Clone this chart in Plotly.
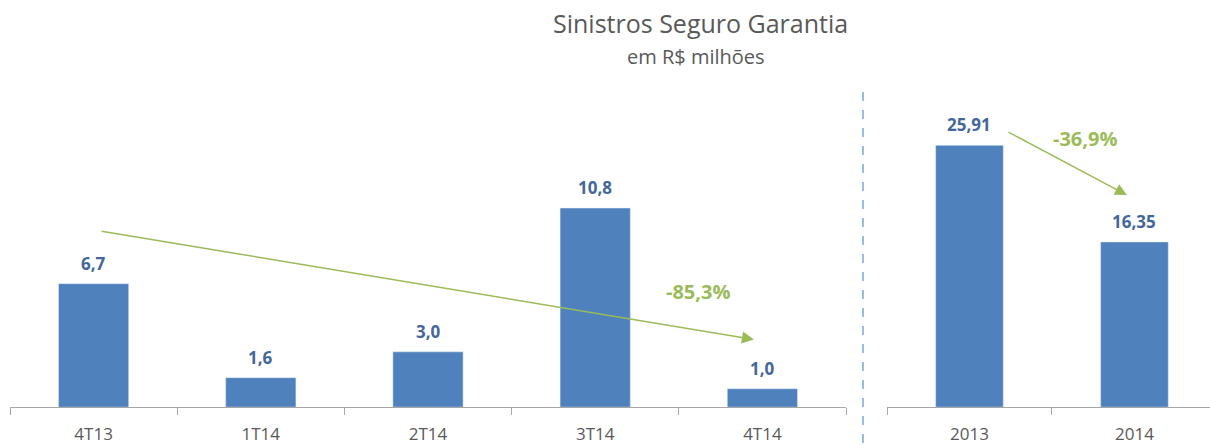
import plotly.graph_objects as go

# Data
quarters = ["4T13", "1T14", "2T14", "3T14", "4T14"]
quarter_values = [6.7, 1.6, 3.0, 10.8, 1.0]
years = ["2013", "2014"]
year_values = [25.91, 16.35]
quarter_change_label = "-85,3%"
year_change_label = "-36,9%"

BAR = "#4f81bd"
LBL = "#44679b"
GREEN = "#9bbb59"
AXIS = "#a6a6a6"
TXT = "#595959"
FONT = "Open Sans"

W, H = 1210, 445
base_px = 409
top_px = 81
def py(px):
    return (H - px) / H

fig = go.Figure()
fig.add_trace(go.Bar(x=quarters, y=quarter_values, marker_color=BAR, width=0.42,
                     xaxis="x", yaxis="y", hoverinfo="skip"))
fig.add_trace(go.Bar(x=years, y=year_values, marker_color=BAR, width=0.41,
                     xaxis="x2", yaxis="y2", hoverinfo="skip"))

left_max = 10.8 * (base_px - top_px) / 200
right_max = 25.91 * (base_px - top_px) / 263

xcommon = dict(type="category", showline=True, linecolor=AXIS, linewidth=1,
               ticks="outside", ticklen=7, tickcolor=AXIS, tickson="boundaries",
               showgrid=False, zeroline=False, ticklabelstandoff=11,
               tickfont=dict(family=FONT, size=17, color=TXT), fixedrange=True)
ycommon = dict(showgrid=False, zeroline=False, showticklabels=False,
               showline=False, fixedrange=True)

fig.update_layout(
    width=W, height=H,
    margin=dict(l=0, r=0, t=0, b=0),
    paper_bgcolor="white", plot_bgcolor="white",
    showlegend=False,
    separators=",.",
    bargap=0.5,
    xaxis=dict(domain=[10 / W, 846 / W], range=[-0.5, 4.5], **xcommon),
    xaxis2=dict(domain=[887 / W, 1.0], range=[-0.5, 1.458], anchor="y2", **xcommon),
    yaxis=dict(domain=[py(base_px), py(top_px)], range=[0, left_max], anchor="x", **ycommon),
    yaxis2=dict(domain=[py(base_px), py(top_px)], range=[0, right_max], anchor="x2", **ycommon),
)

ann = []
# title
ann.append(dict(text="Sinistros Seguro Garantia", x=700 / W, y=py(23), xref="paper", yref="paper",
                showarrow=False, xanchor="center", yanchor="middle",
                font=dict(family=FONT, size=25, color=TXT)))
ann.append(dict(text="em R$ milhões", x=696 / W, y=py(57), xref="paper", yref="paper",
                showarrow=False, xanchor="center", yanchor="middle",
                font=dict(family=FONT, size=20, color=TXT)))
# data labels
for i, v in enumerate(quarter_values):
    ann.append(dict(text=f"{v:.1f}".replace(".", ","), x=i, y=v, xref="x", yref="y",
                    showarrow=False, yanchor="bottom", yshift=7,
                    font=dict(family=FONT, size=17, color=LBL, weight="bold")))
for i, v in enumerate(year_values):
    ann.append(dict(text=f"{v:.2f}".replace(".", ","), x=i, y=v, xref="x2", yref="y2",
                    showarrow=False, yanchor="bottom", yshift=7,
                    font=dict(family=FONT, size=17, color=LBL, weight="bold")))

# arrows (pixel -> axis coordinates)
def lx(px):
    return (px - 10) / 167 - 0.5
def ly(px):
    return (base_px - px) / (base_px - top_px) * left_max
def rx(px):
    return (px - 887) / 165 - 0.5
def ry(px):
    return (base_px - px) / (base_px - top_px) * right_max

ann.append(dict(x=lx(753), y=ly(341), ax=lx(100), ay=ly(232), xref="x", yref="y",
                axref="x", ayref="y", showarrow=True, arrowhead=2, arrowsize=1.6,
                arrowwidth=1.5, arrowcolor=GREEN, text=""))
ann.append(dict(x=rx(1127), y=ry(196), ax=rx(1007), ay=ry(132), xref="x2", yref="y2",
                axref="x2", ayref="y2", showarrow=True, arrowhead=2, arrowsize=1.6,
                arrowwidth=1.5, arrowcolor=GREEN, text=""))
ann.append(dict(text=quarter_change_label, x=lx(697), y=ly(293), xref="x", yref="y",
                showarrow=False, font=dict(family=FONT, size=20, color=GREEN, weight="bold")))
ann.append(dict(text=year_change_label, x=rx(1085), y=ry(139), xref="x2", yref="y2",
                showarrow=False, font=dict(family=FONT, size=20, color=GREEN, weight="bold")))
fig.update_layout(annotations=ann)

fig.add_shape(type="line", xref="paper", yref="paper", x0=863 / W, x1=863 / W,
              y0=0, y1=py(88), line=dict(color="#5b9bd5", width=1.3, dash="dash"))

fig.write_html("out.html", config={"displayModeBar": False},
               post_script="document.body.style.margin='0';")
